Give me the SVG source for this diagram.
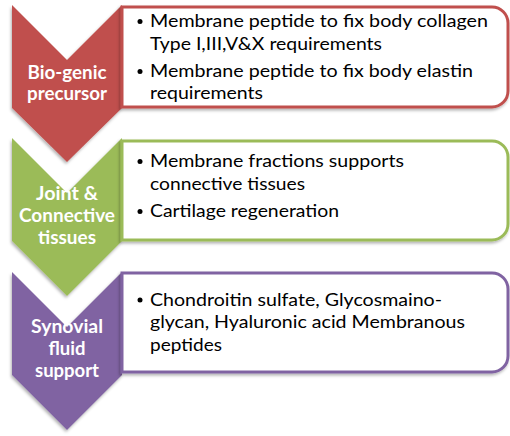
<svg xmlns="http://www.w3.org/2000/svg" width="510" height="436" viewBox="0 0 510 436">
<defs>
<filter id="sh" x="-10%" y="-10%" width="120%" height="125%">
<feDropShadow dx="-1" dy="2" stdDeviation="1.8" flood-color="#000" flood-opacity="0.3"/>
</filter>
<style>
.lbl{font-family:Lato,"Open Sans","Liberation Sans",sans-serif;font-weight:bold;font-size:18px;fill:#fff;text-anchor:middle}
.txt{font-family:Lato,"Open Sans","Liberation Sans",sans-serif;font-size:18px;fill:#000}
.box{fill:#fff;stroke-width:3}
.bul{fill:#000}
</style>
</defs>
<rect width="510" height="436" fill="#fff"/>
<g id="connectors"/>
<g id="node-biogenic">
<path filter="url(#sh)" fill="#C0504D" d="M12,5 L67,60 L122,5 L122,108 L67,162 L12,108 Z"/>
<text class="lbl" x="67" y="79" textLength="79" lengthAdjust="spacingAndGlyphs">Bio-genic</text>
<text class="lbl" x="67" y="100" textLength="80" lengthAdjust="spacingAndGlyphs">precursor</text>
</g>
<g id="box-biogenic">
<path class="box" filter="url(#sh)" stroke="#C0504D" d="M122,7 H492 A16,16 0 0 1 508,23 V91 A16,16 0 0 1 492,107 H122 Z"/>
<circle class="bul" cx="140" cy="21.5" r="2.5"/>
<text class="txt" x="150" y="27" textLength="338" lengthAdjust="spacingAndGlyphs">Membrane peptide to fix body collagen</text>
<text class="txt" x="150" y="49.5" textLength="232" lengthAdjust="spacingAndGlyphs">Type I,III,V&amp;X requirements</text>
<circle class="bul" cx="140" cy="71.5" r="2.5"/>
<text class="txt" x="150" y="77" textLength="323" lengthAdjust="spacingAndGlyphs">Membrane peptide to fix body elastin</text>
<text class="txt" x="150" y="99" textLength="113" lengthAdjust="spacingAndGlyphs">requirements</text>
</g>
<g id="node-joint">
<path filter="url(#sh)" fill="#9BBB59" d="M12,138 L67,193 L122,138 L122,241 L67,296 L12,241 Z"/>
<text class="lbl" x="67" y="200" textLength="62" lengthAdjust="spacingAndGlyphs">Joint &amp;</text>
<text class="lbl" x="67" y="222" textLength="96" lengthAdjust="spacingAndGlyphs">Connective</text>
<text class="lbl" x="67" y="244" textLength="58" lengthAdjust="spacingAndGlyphs">tissues</text>
</g>
<g id="box-joint">
<path class="box" filter="url(#sh)" stroke="#9BBB59" d="M122,141 H492 A16,16 0 0 1 508,157 V224 A16,16 0 0 1 492,240 H122 Z"/>
<circle class="bul" cx="140" cy="161.5" r="2.5"/>
<text class="txt" x="150" y="167" textLength="254" lengthAdjust="spacingAndGlyphs">Membrane fractions supports</text>
<text class="txt" x="150" y="189.5" textLength="155" lengthAdjust="spacingAndGlyphs">connective tissues</text>
<circle class="bul" cx="140" cy="211.5" r="2.5"/>
<text class="txt" x="150" y="217" textLength="189" lengthAdjust="spacingAndGlyphs">Cartilage regeneration</text>
</g>
<g id="node-synovial">
<path filter="url(#sh)" fill="#8064A2" d="M12,272 L67,327 L122,272 L122,375 L67,430 L12,375 Z"/>
<text class="lbl" x="67" y="333" textLength="72" lengthAdjust="spacingAndGlyphs">Synovial</text>
<text class="lbl" x="67" y="355" textLength="37" lengthAdjust="spacingAndGlyphs">fluid</text>
<text class="lbl" x="67" y="377" textLength="64" lengthAdjust="spacingAndGlyphs">support</text>
</g>
<g id="box-synovial">
<path class="box" filter="url(#sh)" stroke="#8064A2" d="M122,273 H492 A16,16 0 0 1 508,289 V356 A16,16 0 0 1 492,372 H122 Z"/>
<circle class="bul" cx="140" cy="300" r="2.5"/>
<text class="txt" x="150" y="305.5" textLength="292" lengthAdjust="spacingAndGlyphs">Chondroitin sulfate, Glycosmaino-</text>
<text class="txt" x="150" y="328" textLength="315" lengthAdjust="spacingAndGlyphs">glycan, Hyaluronic acid Membranous</text>
<text class="txt" x="150" y="350.5" textLength="72" lengthAdjust="spacingAndGlyphs">peptides</text>
</g>
</svg>
